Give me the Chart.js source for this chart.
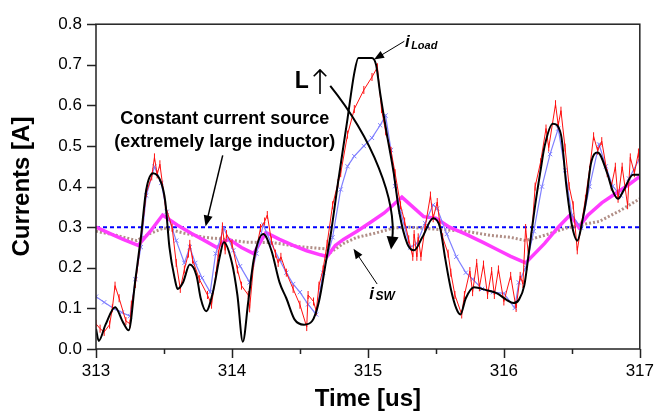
<!DOCTYPE html>
<html>
<head>
<meta charset="utf-8">
<script src="https://cdn.jsdelivr.net/npm/chart.js@4/dist/chart.umd.min.js"></script>
<style>
html, body { margin: 0; padding: 0; background: #fff; }
</style>
</head>
<body>
<canvas id="myChart" width="666" height="417"></canvas>
<script>
'use strict';

// time axis [us] and currents [A]
const loadT = [313.00, 313.02, 313.07, 313.14, 313.20, 313.24, 313.29, 313.33, 313.37, 313.42, 313.48, 313.51, 313.54, 313.58, 313.60, 313.64, 313.69, 313.74, 313.77, 313.81, 313.86, 313.91, 313.94, 314.00, 314.04, 314.08, 314.12, 314.16, 314.23, 314.29, 314.35, 314.40, 314.46, 314.53, 314.59, 314.64, 314.69, 314.73, 314.78, 314.85, 314.90, 314.93, 315.03, 315.06, 315.09, 315.14, 315.19, 315.23, 315.29, 315.34, 315.40, 315.48, 315.53, 315.57, 315.61, 315.65, 315.68, 315.72, 315.78, 315.87, 315.95, 316.02, 316.07, 316.11, 316.15, 316.18, 316.23, 316.27, 316.30, 316.36, 316.42, 316.46, 316.50, 316.54, 316.58, 316.61, 316.64, 316.69, 316.76, 316.80, 316.84, 316.88, 316.95, 317.00];
const loadI = [0.05, 0.02, 0.06, 0.103, 0.065, 0.046, 0.172, 0.275, 0.393, 0.433, 0.409, 0.362, 0.251, 0.172, 0.148, 0.164, 0.208, 0.18, 0.125, 0.093, 0.14, 0.227, 0.263, 0.212, 0.133, 0.018, 0.117, 0.22, 0.283, 0.243, 0.164, 0.125, 0.073, 0.06, 0.069, 0.117, 0.212, 0.29, 0.41, 0.567, 0.68, 0.717, 0.717, 0.70, 0.63, 0.528, 0.433, 0.338, 0.259, 0.243, 0.275, 0.322, 0.30, 0.22, 0.148, 0.1, 0.085, 0.125, 0.152, 0.145, 0.137, 0.121, 0.113, 0.121, 0.156, 0.227, 0.354, 0.44, 0.5, 0.555, 0.528, 0.401, 0.306, 0.267, 0.32, 0.378, 0.456, 0.484, 0.433, 0.39, 0.37, 0.39, 0.429, 0.429];

const redT = [313.00, 313.03, 313.06, 313.10, 313.12, 313.14, 313.17, 313.22, 313.25, 313.26, 313.29, 313.33, 313.37, 313.41, 313.43, 313.45, 313.47, 313.51, 313.56, 313.59, 313.62, 313.65, 313.68, 313.69, 313.71, 313.76, 313.82, 313.85, 313.88, 313.90, 313.92, 313.93, 313.95, 313.96, 314.00, 314.04, 314.07, 314.12, 314.13, 314.16, 314.21, 314.24, 314.26, 314.29, 314.32, 314.34, 314.36, 314.40, 314.45, 314.50, 314.55, 314.56, 314.60, 314.62, 314.64, 314.67, 314.70, 314.74, 314.78, 314.80, 314.85, 314.90, 314.97, 315.03, 315.07, 315.10, 315.13, 315.17, 315.20, 315.24, 315.27, 315.30, 315.33, 315.34, 315.36, 315.37, 315.39, 315.42, 315.46, 315.48, 315.51, 315.53, 315.55, 315.59, 315.61, 315.64, 315.69, 315.71, 315.75, 315.77, 315.80, 315.82, 315.85, 315.88, 315.91, 315.93, 315.96, 316.00, 316.05, 316.09, 316.12, 316.14, 316.16, 316.18, 316.21, 316.23, 316.27, 316.31, 316.33, 316.38, 316.40, 316.42, 316.45, 316.48, 316.51, 316.54, 316.57, 316.60, 316.63, 316.66, 316.69, 316.72, 316.76, 316.79, 316.82, 316.84, 316.87, 316.91, 316.93, 316.96, 316.99, 317.00];
const redI = [0.062, 0.05, 0.042, 0.06, 0.10, 0.156, 0.125, 0.069, 0.062, 0.109, 0.16, 0.267, 0.385, 0.425, 0.472, 0.43, 0.455, 0.354, 0.299, 0.212, 0.148, 0.196, 0.235, 0.259, 0.22, 0.172, 0.133, 0.109, 0.18, 0.235, 0.267, 0.302, 0.243, 0.283, 0.259, 0.196, 0.156, 0.133, 0.10, 0.212, 0.298, 0.314, 0.33, 0.267, 0.235, 0.212, 0.227, 0.188, 0.148, 0.109, 0.054, 0.133, 0.117, 0.093, 0.156, 0.196, 0.259, 0.354, 0.409, 0.433, 0.528, 0.591, 0.638, 0.67, 0.694, 0.591, 0.536, 0.488, 0.433, 0.354, 0.314, 0.27, 0.227, 0.283, 0.227, 0.275, 0.227, 0.298, 0.378, 0.322, 0.362, 0.306, 0.275, 0.235, 0.188, 0.133, 0.085, 0.133, 0.192, 0.14, 0.212, 0.152, 0.208, 0.133, 0.192, 0.133, 0.196, 0.117, 0.18, 0.101, 0.18, 0.16, 0.298, 0.235, 0.306, 0.40, 0.46, 0.543, 0.496, 0.603, 0.551, 0.587, 0.496, 0.401, 0.354, 0.243, 0.306, 0.37, 0.441, 0.524, 0.488, 0.512, 0.433, 0.40, 0.449, 0.37, 0.449, 0.354, 0.472, 0.433, 0.484, 0.44];

const blueT = [313.00, 313.06, 313.13, 313.19, 313.25, 313.29, 313.33, 313.37, 313.43, 313.48, 313.52, 313.59, 313.65, 313.69, 313.73, 313.78, 313.84, 313.88, 313.94, 314.01, 314.06, 314.13, 314.18, 314.23, 314.29, 314.35, 314.40, 314.45, 314.50, 314.56, 314.62, 314.67, 314.74, 314.80, 314.85, 314.90, 314.97, 315.03, 315.09, 315.13, 315.17, 315.20, 315.24, 315.31, 315.36, 315.42, 315.48, 315.51, 315.58, 315.65, 315.72, 315.77, 315.84, 315.92, 316.00, 316.08, 316.11, 316.16, 316.22, 316.28, 316.34, 316.40, 316.45, 316.50, 316.57, 316.63, 316.70, 316.75, 316.80, 316.86, 316.92, 317.00];
const blueI = [0.129, 0.115, 0.10, 0.09, 0.081, 0.172, 0.251, 0.378, 0.449, 0.409, 0.338, 0.267, 0.212, 0.251, 0.212, 0.175, 0.14, 0.235, 0.298, 0.243, 0.204, 0.164, 0.235, 0.306, 0.259, 0.22, 0.188, 0.16, 0.14, 0.11, 0.085, 0.188, 0.275, 0.393, 0.45, 0.475, 0.50, 0.52, 0.551, 0.575, 0.49, 0.401, 0.338, 0.25, 0.26, 0.31, 0.355, 0.346, 0.283, 0.227, 0.188, 0.172, 0.148, 0.14, 0.137, 0.101, 0.164, 0.20, 0.29, 0.40, 0.48, 0.543, 0.44, 0.33, 0.298, 0.40, 0.504, 0.45, 0.401, 0.378, 0.42, 0.47];

const swT = [313.00, 313.10, 313.20, 313.31, 313.40, 313.49, 313.60, 313.70, 313.80, 313.89, 313.94, 313.98, 314.07, 314.16, 314.25, 314.35, 314.45, 314.55, 314.65, 314.70, 314.76, 314.82, 314.92, 315.02, 315.12, 315.21, 315.25, 315.33, 315.41, 315.50, 315.60, 315.72, 315.85, 315.95, 316.05, 316.16, 316.30, 316.40, 316.49, 316.55, 316.62, 316.72, 316.83, 316.92, 317.00];
const swI = [0.30, 0.285, 0.27, 0.255, 0.29, 0.33, 0.305, 0.285, 0.267, 0.25, 0.265, 0.27, 0.25, 0.235, 0.287, 0.27, 0.255, 0.242, 0.232, 0.228, 0.255, 0.27, 0.29, 0.312, 0.335, 0.362, 0.374, 0.35, 0.326, 0.322, 0.30, 0.283, 0.262, 0.245, 0.228, 0.212, 0.26, 0.30, 0.331, 0.30, 0.33, 0.36, 0.385, 0.405, 0.425];

const bigLT = [313.00, 313.15, 313.30, 313.40, 313.50, 313.65, 313.80, 313.95, 314.10, 314.30, 314.50, 314.68, 314.73, 314.82, 314.92, 315.05, 315.19, 315.30, 315.50, 315.72, 315.90, 316.05, 316.16, 316.30, 316.46, 316.60, 316.70, 316.85, 317.00];
const bigLI = [0.29, 0.28, 0.267, 0.285, 0.298, 0.285, 0.275, 0.27, 0.263, 0.262, 0.252, 0.247, 0.239, 0.26, 0.275, 0.285, 0.298, 0.30, 0.295, 0.29, 0.28, 0.275, 0.267, 0.28, 0.298, 0.308, 0.314, 0.34, 0.37];

const constT = [313, 317];
const constI = [0.3, 0.3];

function pts(ts, vs) {
    return ts.map(function(t, i){ return {x: t, y: vs[i]}; });
}

const FONT = '"Liberation Sans", Arial, sans-serif';

// box, ticks (major / minor) and the notes drawn on top
const frame = {
    id: 'frame',
    afterDatasetsDraw(chart) {
        const ctx = chart.ctx;
        const a = chart.chartArea;
        const xs = chart.scales.x;
        const ys = chart.scales.y;
        const px = t => xs.getPixelForValue(t);
        const py = v => ys.getPixelForValue(v);

        ctx.save();
        ctx.strokeStyle = '#222';
        ctx.lineWidth = 1.5;
        ctx.strokeRect(a.left, a.top, a.right - a.left, a.bottom - a.top);

        ctx.beginPath();
        xs.ticks.forEach(function(tk){
            const major = Math.abs(tk.value - Math.round(tk.value)) < 1e-6;
            const x = Math.round(px(tk.value)) + 0.5;
            ctx.moveTo(x, a.bottom);
            ctx.lineTo(x, a.bottom + (major ? 9 : 5));
        });
        ys.ticks.forEach(function(tk){
            const major = Math.abs(tk.value * 10 - Math.round(tk.value * 10)) < 1e-6;
            const y = Math.round(py(tk.value)) + 0.5;
            ctx.moveTo(a.left, y);
            ctx.lineTo(a.left - (major ? 9 : 5), y);
        });
        ctx.stroke();

        function arrow(x1, y1, x2, y2, lw, len, half) {
            const ang = Math.atan2(y2 - y1, x2 - x1);
            ctx.lineWidth = lw;
            ctx.beginPath();
            ctx.moveTo(x1, y1);
            ctx.lineTo(x2 - Math.cos(ang) * len * 0.8, y2 - Math.sin(ang) * len * 0.8);
            ctx.stroke();
            head(x2, y2, ang, len, half);
        }
        function head(x, y, ang, len, half) {
            ctx.beginPath();
            ctx.moveTo(x, y);
            ctx.lineTo(x - Math.cos(ang) * len - Math.sin(ang) * half, y - Math.sin(ang) * len + Math.cos(ang) * half);
            ctx.lineTo(x - Math.cos(ang) * len + Math.sin(ang) * half, y - Math.sin(ang) * len - Math.cos(ang) * half);
            ctx.closePath();
            ctx.fill();
        }

        ctx.fillStyle = '#000';
        ctx.strokeStyle = '#000';

        // constant current source label
        ctx.font = 'bold 18px ' + FONT;
        ctx.textAlign = 'center';
        ctx.textBaseline = 'middle';
        ctx.fillText('Constant current source', px(313.947), py(0.566));
        ctx.fillText('(extremely large inductor)', px(313.947), py(0.510));
        arrow(px(313.932), py(0.477), px(313.806), py(0.302), 1.5, 11, 4.5);

        // L up
        ctx.textAlign = 'left';
        ctx.textBaseline = 'alphabetic';
        ctx.font = 'bold 23px ' + FONT;
        ctx.fillText('L', px(314.462), py(0.643));
        const lw = ctx.measureText('L').width;
        ctx.font = '200 34px "DejaVu Sans", ' + FONT;
        ctx.fillText('\u2191', px(314.462) + lw - 3, py(0.627));

        const p0 = [px(314.723), py(0.648)];
        const c1 = [px(315.032), py(0.519)];
        const c2 = [px(315.214), py(0.366)];
        const p3 = [px(315.170), py(0.245)];
        const ang = Math.atan2(p3[1] - c2[1], p3[0] - c2[0]);
        ctx.lineWidth = 2;
        ctx.beginPath();
        ctx.moveTo(p0[0], p0[1]);
        ctx.bezierCurveTo(c1[0], c1[1], c2[0], c2[1], p3[0] - Math.cos(ang) * 9, p3[1] - Math.sin(ang) * 9);
        ctx.stroke();
        head(p3[0], p3[1], ang, 13, 6);

        // i_Load
        ctx.font = 'italic bold 17px ' + FONT;
        ctx.fillText('i', px(315.272), py(0.745));
        ctx.font = 'italic bold 11px ' + FONT;
        ctx.fillText('Load', px(315.318), py(0.739));
        arrow(px(315.268), py(0.758), px(315.045), py(0.713), 1, 10, 4);

        // i_SW
        ctx.font = 'italic bold 17px ' + FONT;
        ctx.fillText('i', px(315.010), py(0.124));
        ctx.font = 'italic bold 12px ' + FONT;
        ctx.fillText('SW', px(315.056), py(0.120));
        arrow(px(315.068), py(0.160), px(314.894), py(0.247), 1, 10, 4);

        ctx.restore();
    }
};

const chart = document.getElementById('myChart');
const myChart = new Chart(chart, {
    type: 'line',
    data: {
        datasets: [
            {
                label: 'iLoad',
                data: pts(loadT, loadI),
                borderColor: '#000',
                borderWidth: 2,
                pointRadius: 0,
                cubicInterpolationMode: 'monotone',
            },
            {
                label: 'red',
                data: pts(redT, redI),
                borderColor: '#ff1010',
                borderWidth: 1,
                pointStyle: 'line',
                rotation: 90,
                pointRadius: 4,
                pointBorderWidth: 1,
                pointBorderColor: '#ff1010',
            },
            {
                label: 'blue',
                data: pts(blueT, blueI),
                borderColor: '#8080ff',
                borderWidth: 1.2,
                pointStyle: 'crossRot',
                pointRadius: 3,
                pointBorderWidth: 1,
                pointBorderColor: '#8080ff',
            },
            {
                label: 'iSW',
                data: pts(swT, swI),
                borderColor: '#ff3cff',
                borderWidth: 3.5,
                pointRadius: 0,
            },
            {
                label: 'large L',
                data: pts(bigLT, bigLI),
                borderColor: '#b08e86',
                borderWidth: 3,
                borderDash: [2, 2],
                pointRadius: 0,
            },
            {
                label: 'constant',
                data: pts(constT, constI),
                borderColor: '#0000ff',
                borderWidth: 2,
                borderDash: [4, 3],
                pointRadius: 0,
            },
        ],
    },
    options: {
        responsive: false,
        animation: false,
        layout: { padding: { top: 12, right: 21, left: 0, bottom: 0 } },
        plugins: {
            legend: { display: false },
            tooltip: { enabled: false },
        },
        scales: {
            x: {
                type: 'linear',
                min: 313,
                max: 317,
                afterFit: function(s){ s.height = 68; },
                grid: { display: false, drawTicks: false },
                border: { display: false },
                ticks: {
                    stepSize: 0.5,
                    padding: 12,
                    color: '#000',
                    font: { family: FONT, size: 17 },
                    maxRotation: 0,
                    callback: function(v){ return Math.abs(v - Math.round(v)) < 1e-6 ? String(Math.round(v)) : ''; },
                },
                title: {
                    display: true,
                    text: 'Time [us]',
                    color: '#000',
                    font: { family: FONT, size: 24, weight: 'bold' },
                    padding: { top: 0, bottom: 3 },
                },
            },
            y: {
                min: 0,
                max: 0.8,
                afterFit: function(s){ s.width = 96; },
                grid: { display: false, drawTicks: false },
                border: { display: false },
                ticks: {
                    stepSize: 0.05,
                    padding: 14,
                    color: '#000',
                    font: { family: FONT, size: 17 },
                    callback: function(v){ return Math.abs(v * 10 - Math.round(v * 10)) < 1e-6 ? v.toFixed(1) : ''; },
                },
                title: {
                    display: true,
                    text: 'Currents [A]',
                    color: '#000',
                    font: { family: FONT, size: 24, weight: 'bold' },
                    padding: { top: 8, bottom: 0 },
                },
            },
        },
    },
    plugins: [frame],
});
</script>
</body>
</html>
